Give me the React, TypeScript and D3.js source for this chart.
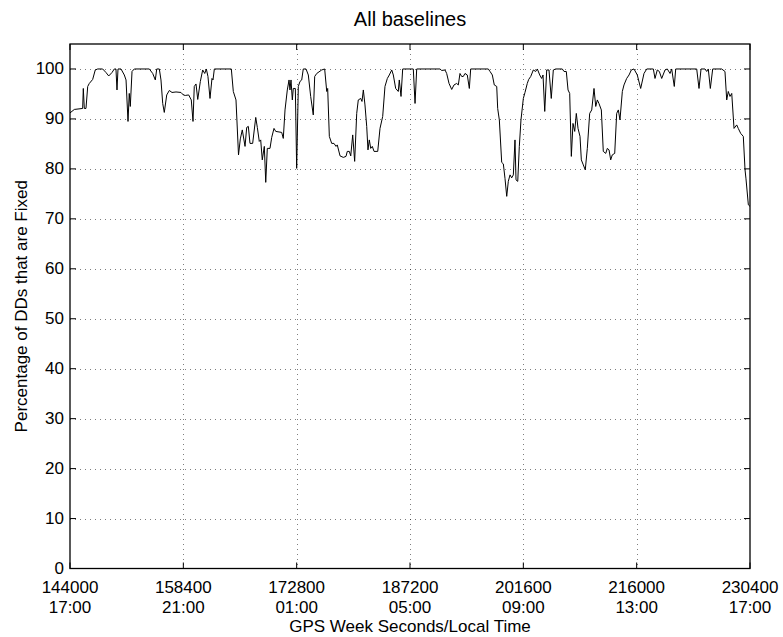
import React from "react";
import * as d3 from "d3";

const times: number[] = [
  144000, 144550, 145610, 145690, 145820, 146030, 146250, 146450, 146880, 147210,
  147520, 148150, 148570, 148920, 149340, 149630, 149840, 149970, 150100, 150480,
  150900, 151120, 151370, 151530, 151660, 151880, 152170, 154080, 154510, 154840,
  155020, 155350, 155560, 155780, 155980, 156290, 156620, 156960, 157470, 158100,
  158400, 158650, 159080, 159410, 159630, 159790, 160010, 160230, 160560, 160860,
  161120, 161320, 161530, 161790, 162040, 162170, 162340, 164500, 164750, 165090,
  165410, 165640, 165890, 166240, 166450, 166660, 166870, 167210, 167600, 167800,
  168050, 168230, 168430, 168690, 168870, 169070, 169410, 169630, 169920, 170140,
  170900, 171100, 171320, 171610, 171830, 171950, 172080, 172250, 172370, 172630,
  172800, 173010, 173220, 173440, 173640, 173990, 174280, 174580, 174910, 175090,
  175350, 175980, 176360, 176620, 176740, 176950, 177250, 177540, 177800, 177960,
  178310, 178730, 179070, 179230, 179490, 179670, 179920, 180170, 180430, 180630,
  180940, 181100, 181270, 181480, 181700, 181860, 182030, 182210, 182410, 182630,
  183100, 183390, 183730, 184020, 184320, 184570, 184880, 185080, 185380, 185710,
  185840, 186060, 186270, 187620, 187840, 188050, 191010, 191230, 191650, 191860,
  192160, 192500, 192790, 193130, 193340, 193550, 193770, 193970, 194190, 194480,
  194740, 194910, 197150, 197370, 197660, 197910, 198220, 198340, 198550, 198850,
  199060, 199270, 199490, 199690, 199910, 200120, 200330, 200540, 200670, 200890,
  201090, 201300, 201600, 201810, 202100, 202280, 202540, 202870, 203170, 203380,
  203680, 203930, 204100, 204320, 204570, 204860, 205150, 205410, 205710, 206550,
  206770, 207060, 207280, 207490, 207700, 207910, 208130, 208330, 208550, 208800,
  208970, 209220, 209470, 209730, 210030, 210290, 210580, 210800, 211000, 211210,
  211510, 211760, 212070, 212270, 212490, 212700, 212900, 213210, 213460, 213670,
  213880, 214180, 214390, 214730, 215030, 215320, 215660, 216080, 216510, 216930,
  217280, 218120, 218330, 218620, 218880, 219180, 219600, 219890, 220240, 220450,
  220780, 220960, 223630, 223920, 224180, 224680, 224900, 225100, 225360, 225660,
  226800, 227220, 227440, 227640, 227860, 228080, 228370, 228710, 228910, 229220,
  229550, 229770, 229890, 230190, 230400,
];

const fixedPct: number[] = [
  91.2, 91.9, 92.1, 96.1, 92.1, 92.1, 96.5, 97.1, 97.9, 99.8,
  100, 100, 99.3, 98.6, 99.3, 100, 100, 95.8, 100, 100,
  98.8, 97.8, 89.5, 95.1, 92.5, 99.5, 100, 100, 99.1, 97.8,
  100, 100, 97.8, 93.1, 91.3, 94.8, 95.7, 95.3, 95.4, 95.3,
  94.8, 94.7, 94.8, 93.8, 89.5, 96.5, 97.0, 93.9, 97.5, 99.8,
  99.1, 100, 98.5, 94.1, 98.1, 97.8, 100, 100, 95.5, 93.8,
  82.8, 86.0, 87.8, 84.5, 88.3, 88.5, 85.1, 85.1, 90.3, 88.3,
  85.5, 85.8, 81.8, 84.5, 77.3, 84.1, 84.1, 86.3, 88.1, 87.5,
  87.3, 86.1, 91.8, 95.8, 97.8, 95.8, 97.8, 93.8, 96.1, 96.1,
  80.1, 96.5, 97.5, 97.8, 100, 100, 98.8, 94.5, 90.8, 98.5,
  99.1, 99.8, 100, 95.5, 96.1, 86.5, 85.1, 85.1, 84.5, 84.8,
  82.6, 82.3, 82.5, 83.5, 83.5, 82.6, 86.8, 81.5, 91.1, 93.8,
  94.1, 93.5, 95.8, 92.8, 88.5, 83.8, 85.8, 84.1, 84.5, 83.5,
  83.5, 88.1, 90.5, 96.5, 98.1, 98.8, 99.8, 98.8, 96.1, 95.5,
  97.8, 94.5, 100, 100, 93.1, 100, 100, 99.7, 99.8, 99.1,
  97.1, 95.9, 96.8, 97.1, 96.8, 99.1, 98.5, 98.5, 99.1, 98.8,
  96.1, 100, 100, 99.5, 98.8, 96.8, 96.5, 92.1, 89.8, 81.3,
  81.0, 78.1, 74.5, 77.5, 78.8, 78.2, 78.8, 85.8, 77.8, 77.5,
  84.5, 89.8, 94.1, 95.3, 97.1, 97.9, 98.5, 99.8, 99.5, 100,
  98.8, 98.1, 98.8, 91.5, 99.8, 99.8, 94.1, 99.8, 100, 100,
  99.5, 99.5, 95.8, 95.1, 82.5, 89.1, 87.5, 91.1, 88.1, 86.5,
  81.8, 80.8, 79.8, 84.1, 91.1, 91.8, 96.1, 92.5, 93.8, 93.1,
  91.8, 83.5, 83.1, 84.1, 83.8, 81.8, 82.8, 83.1, 91.1, 91.8,
  89.8, 95.5, 96.8, 98.1, 98.8, 99.8, 100, 98.8, 96.1, 99.1,
  100, 100, 98.1, 99.8, 99.5, 98.1, 99.8, 100, 99.1, 100,
  96.5, 100, 100, 96.1, 100, 100, 99.5, 100, 96.1, 100,
  100, 99.5, 93.8, 95.5, 94.5, 95.1, 88.1, 88.8, 88.1, 87.1,
  86.5, 79.8, 78.0, 72.8, 72.5,
];

const xTicks: number[] = [144000, 158400, 172800, 187200, 201600, 216000, 230400];
const xTickTimes: string[] = ["17:00", "21:00", "01:00", "05:00", "09:00", "13:00", "17:00"];
const yTicks: number[] = [0, 10, 20, 30, 40, 50, 60, 70, 80, 90, 100];

const title = "All baselines";
const xLabel = "GPS Week Seconds/Local Time";
const yLabel = "Percentage of DDs that are Fixed";

const W = 783;
const H = 637;
const margin = { left: 70, right: 33, top: 44, bottom: 68 };
const FONT = "'Liberation Sans', Arial, Helvetica, sans-serif";

export default function App() {
  const x = d3
    .scaleLinear()
    .domain([144000, 230400])
    .range([margin.left, W - margin.right]);
  const y = d3
    .scaleLinear()
    .domain([0, 105])
    .range([H - margin.bottom - 0.5, margin.top]);

  const pts: [number, number][] = times.map((t, i) => [t, fixedPct[i]]);
  const line = d3
    .line<[number, number]>()
    .x((d) => x(d[0]))
    .y((d) => y(d[1]));

  const x0 = x.range()[0];
  const x1 = x.range()[1];
  const yb = y(0);
  const yt = margin.top;
  const tickLen = 6;

  return (
    <svg
      width={W}
      height={H}
      style={{ position: "absolute", left: 0, top: 0, background: "#fff" }}
      fontFamily={FONT}
    >
      <rect x={0} y={0} width={W} height={H} fill="#fff" />
      {xTicks.slice(1, -1).map((t) => (
        <line
          key={"gx" + t}
          x1={Math.round(x(t)) + 0.5}
          x2={Math.round(x(t)) + 0.5}
          y1={yt}
          y2={yb}
          stroke="#000"
          strokeWidth={1}
          strokeDasharray="1 4"
          opacity={0.5}
        />
      ))}
      {yTicks.slice(1).map((v) => (
        <line
          key={"gy" + v}
          x1={x0}
          x2={x1}
          y1={Math.round(y(v)) + 0.5}
          y2={Math.round(y(v)) + 0.5}
          stroke="#000"
          strokeWidth={1}
          strokeDasharray="1 4"
          opacity={0.5}
        />
      ))}
      <path d={line(pts) || ""} fill="none" stroke="#000" strokeWidth={1} />
      <rect x={x0} y={yt} width={x1 - x0} height={yb - yt} fill="none" stroke="#000" strokeWidth={1.3} />
      {xTicks.map((t) => (
        <g key={"xt" + t}>
          <line x1={x(t)} x2={x(t)} y1={yb} y2={yb - tickLen} stroke="#000" />
          <line x1={x(t)} x2={x(t)} y1={yt} y2={yt + tickLen} stroke="#000" />
        </g>
      ))}
      {yTicks.map((v) => (
        <g key={"yt" + v}>
          <line x1={x0} x2={x0 + tickLen} y1={y(v)} y2={y(v)} stroke="#000" />
          <line x1={x1} x2={x1 - tickLen} y1={y(v)} y2={y(v)} stroke="#000" />
        </g>
      ))}
      {xTicks.map((t, i) => (
        <g key={"xl" + t} fontSize={17} textAnchor="middle" fill="#000">
          <text x={x(t)} y={yb + 24}>
            {t}
          </text>
          <text x={x(t)} y={yb + 44}>
            {xTickTimes[i]}
          </text>
        </g>
      ))}
      {yTicks.map((v) => (
        <text
          key={"yl" + v}
          x={x0 - 6}
          y={y(v) - 1}
          dy="0.36em"
          fontSize={17}
          textAnchor="end"
          fill="#000"
        >
          {v}
        </text>
      ))}
      <text x={(x0 + x1) / 2} y={H - 5} fontSize={17} textAnchor="middle" fill="#000">
        {xLabel}
      </text>
      <text
        transform={`translate(27, ${(yt + yb) / 2}) rotate(-90)`}
        fontSize={17}
        textAnchor="middle"
        fill="#000"
      >
        {yLabel}
      </text>
      <text x={(x0 + x1) / 2} y={26} fontSize={20} textAnchor="middle" fill="#000">
        {title}
      </text>
    </svg>
  );
}
